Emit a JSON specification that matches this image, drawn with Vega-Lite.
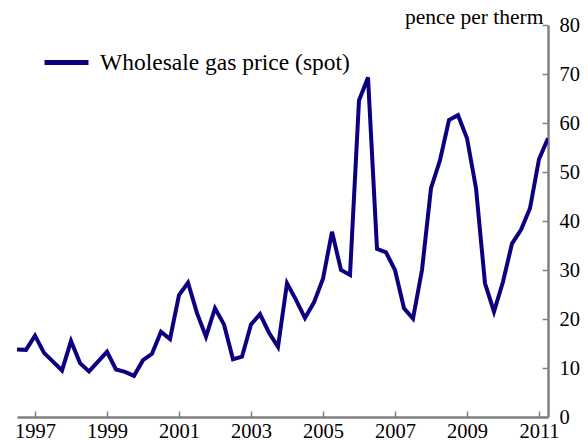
{
  "$schema": "https://vega.github.io/schema/vega-lite/v6.json",
  "width": 531,
  "height": 392,
  "autosize": {"type": "none"},
  "padding": {"left": 17, "top": 25, "right": 39, "bottom": 24},
  "background": "white",
  "config": {
    "view": {"stroke": null},
    "font": "Liberation Serif"
  },
  "data": {
    "values": [
      {"year": 1996.5, "price": 13.8, "series": "Wholesale gas price (spot)"},
      {"year": 1996.75, "price": 13.7, "series": "Wholesale gas price (spot)"},
      {"year": 1997.0, "price": 16.6, "series": "Wholesale gas price (spot)"},
      {"year": 1997.25, "price": 13.1, "series": "Wholesale gas price (spot)"},
      {"year": 1997.5, "price": 11.3, "series": "Wholesale gas price (spot)"},
      {"year": 1997.75, "price": 9.5, "series": "Wholesale gas price (spot)"},
      {"year": 1998.0, "price": 15.5, "series": "Wholesale gas price (spot)"},
      {"year": 1998.25, "price": 11.0, "series": "Wholesale gas price (spot)"},
      {"year": 1998.5, "price": 9.3, "series": "Wholesale gas price (spot)"},
      {"year": 1998.75, "price": 11.3, "series": "Wholesale gas price (spot)"},
      {"year": 1999.0, "price": 13.3, "series": "Wholesale gas price (spot)"},
      {"year": 1999.25, "price": 9.7, "series": "Wholesale gas price (spot)"},
      {"year": 1999.5, "price": 9.2, "series": "Wholesale gas price (spot)"},
      {"year": 1999.75, "price": 8.4, "series": "Wholesale gas price (spot)"},
      {"year": 2000.0, "price": 11.6, "series": "Wholesale gas price (spot)"},
      {"year": 2000.25, "price": 12.9, "series": "Wholesale gas price (spot)"},
      {"year": 2000.5, "price": 17.4, "series": "Wholesale gas price (spot)"},
      {"year": 2000.75, "price": 15.9, "series": "Wholesale gas price (spot)"},
      {"year": 2001.0, "price": 24.9, "series": "Wholesale gas price (spot)"},
      {"year": 2001.25, "price": 27.4, "series": "Wholesale gas price (spot)"},
      {"year": 2001.5, "price": 21.2, "series": "Wholesale gas price (spot)"},
      {"year": 2001.75, "price": 16.4, "series": "Wholesale gas price (spot)"},
      {"year": 2002.0, "price": 22.2, "series": "Wholesale gas price (spot)"},
      {"year": 2002.25, "price": 18.9, "series": "Wholesale gas price (spot)"},
      {"year": 2002.5, "price": 11.8, "series": "Wholesale gas price (spot)"},
      {"year": 2002.75, "price": 12.3, "series": "Wholesale gas price (spot)"},
      {"year": 2003.0, "price": 18.9, "series": "Wholesale gas price (spot)"},
      {"year": 2003.25, "price": 21.0, "series": "Wholesale gas price (spot)"},
      {"year": 2003.5, "price": 17.2, "series": "Wholesale gas price (spot)"},
      {"year": 2003.75, "price": 14.3, "series": "Wholesale gas price (spot)"},
      {"year": 2004.0, "price": 27.3, "series": "Wholesale gas price (spot)"},
      {"year": 2004.25, "price": 23.9, "series": "Wholesale gas price (spot)"},
      {"year": 2004.5, "price": 20.2, "series": "Wholesale gas price (spot)"},
      {"year": 2004.75, "price": 23.4, "series": "Wholesale gas price (spot)"},
      {"year": 2005.0, "price": 28.2, "series": "Wholesale gas price (spot)"},
      {"year": 2005.25, "price": 37.8, "series": "Wholesale gas price (spot)"},
      {"year": 2005.5, "price": 30.0, "series": "Wholesale gas price (spot)"},
      {"year": 2005.75, "price": 29.0, "series": "Wholesale gas price (spot)"},
      {"year": 2006.0, "price": 64.6, "series": "Wholesale gas price (spot)"},
      {"year": 2006.25, "price": 69.3, "series": "Wholesale gas price (spot)"},
      {"year": 2006.5, "price": 34.3, "series": "Wholesale gas price (spot)"},
      {"year": 2006.75, "price": 33.6, "series": "Wholesale gas price (spot)"},
      {"year": 2007.0, "price": 30.0, "series": "Wholesale gas price (spot)"},
      {"year": 2007.25, "price": 22.2, "series": "Wholesale gas price (spot)"},
      {"year": 2007.5, "price": 20.1, "series": "Wholesale gas price (spot)"},
      {"year": 2007.75, "price": 30.0, "series": "Wholesale gas price (spot)"},
      {"year": 2008.0, "price": 46.7, "series": "Wholesale gas price (spot)"},
      {"year": 2008.25, "price": 52.4, "series": "Wholesale gas price (spot)"},
      {"year": 2008.5, "price": 60.6, "series": "Wholesale gas price (spot)"},
      {"year": 2008.75, "price": 61.6, "series": "Wholesale gas price (spot)"},
      {"year": 2009.0, "price": 56.9, "series": "Wholesale gas price (spot)"},
      {"year": 2009.25, "price": 46.7, "series": "Wholesale gas price (spot)"},
      {"year": 2009.5, "price": 27.3, "series": "Wholesale gas price (spot)"},
      {"year": 2009.75, "price": 21.5, "series": "Wholesale gas price (spot)"},
      {"year": 2010.0, "price": 27.6, "series": "Wholesale gas price (spot)"},
      {"year": 2010.25, "price": 35.4, "series": "Wholesale gas price (spot)"},
      {"year": 2010.5, "price": 38.2, "series": "Wholesale gas price (spot)"},
      {"year": 2010.75, "price": 42.6, "series": "Wholesale gas price (spot)"},
      {"year": 2011.0, "price": 52.6, "series": "Wholesale gas price (spot)"},
      {"year": 2011.25, "price": 56.9, "series": "Wholesale gas price (spot)"}
    ]
  },
  "mark": {"type": "line", "strokeWidth": 4, "strokeJoin": "miter", "clip": true},
  "encoding": {
    "x": {
      "field": "year",
      "type": "quantitative",
      "scale": {"domain": [1996.5, 2011.25], "nice": false, "zero": false},
      "axis": {
        "title": null,
        "values": [1997, 1999, 2001, 2003, 2005, 2007, 2009, 2011],
        "format": "d",
        "grid": false,
        "domainColor": "#808080",
        "domainWidth": 2.5,
        "tickColor": "#808080",
        "tickWidth": 1.5,
        "tickSize": -6,
        "labelPadding": 10,
        "labelFont": "Liberation Serif",
        "labelFontSize": 20.5,
        "labelColor": "#000000"
      }
    },
    "y": {
      "field": "price",
      "type": "quantitative",
      "scale": {"domain": [0, 80], "nice": false},
      "axis": {
        "orient": "right",
        "title": "pence per therm",
        "titleAngle": 0,
        "titleAlign": "right",
        "titleBaseline": "alphabetic",
        "titleX": -5,
        "titleY": -2,
        "titleFont": "Liberation Serif",
        "titleFontSize": 21.5,
        "titleFontWeight": "normal",
        "titleColor": "#000000",
        "values": [0, 10, 20, 30, 40, 50, 60, 70, 80],
        "grid": false,
        "domainColor": "#808080",
        "domainWidth": 2.5,
        "tickColor": "#808080",
        "tickWidth": 1.5,
        "tickSize": -6,
        "labelPadding": 17,
        "labelFont": "Liberation Serif",
        "labelFontSize": 20.5,
        "labelColor": "#000000"
      }
    },
    "color": {
      "field": "series",
      "type": "nominal",
      "scale": {"range": ["#0c0080"]},
      "legend": {
        "title": null,
        "orient": "none",
        "legendX": 25,
        "legendY": 13,
        "padding": 0,
        "symbolType": "stroke",
        "symbolSize": 1936,
        "symbolStrokeWidth": 5,
        "labelFont": "Liberation Serif",
        "labelFontSize": 23.5,
        "labelColor": "#000000",
        "labelOffset": 9,
        "labelLimit": 400
      }
    }
  }
}
